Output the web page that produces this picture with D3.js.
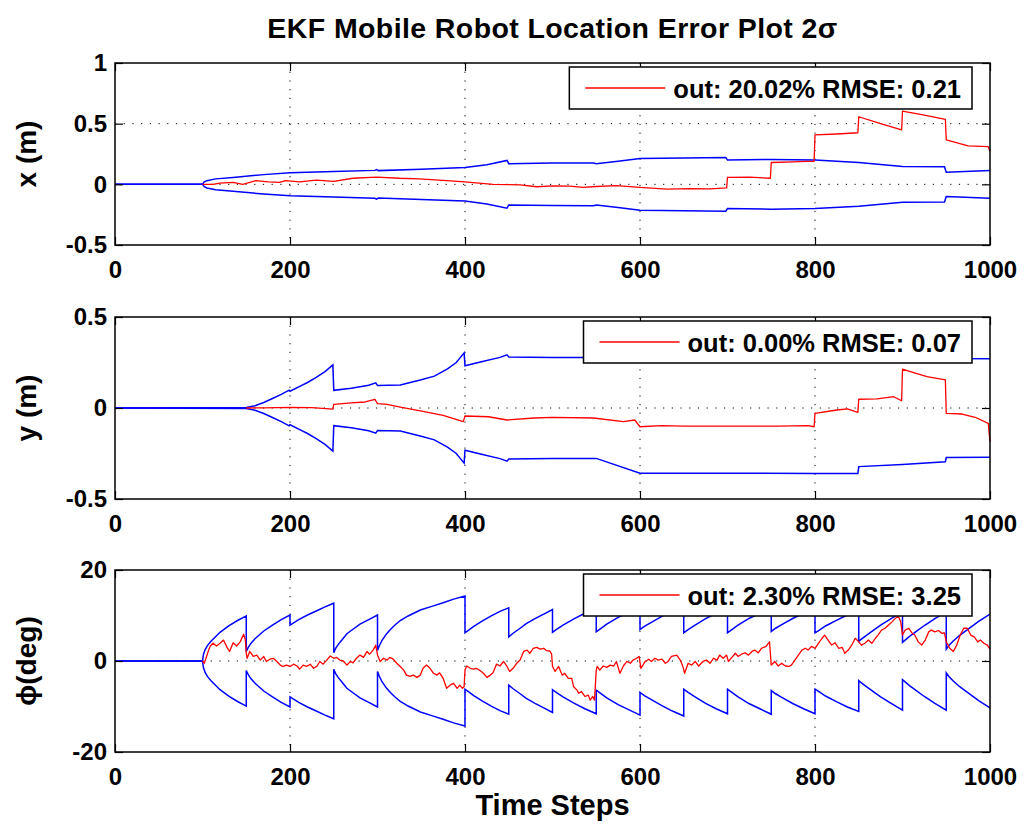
<!DOCTYPE html>
<html>
<head>
<meta charset="utf-8">
<script src="https://cdn.jsdelivr.net/npm/d3@7"></script>
<style>
  body { margin: 0; background: #fff; }
  svg text { font-family: "Liberation Sans", Arial, Helvetica, sans-serif; fill: #000; }
</style>
</head>
<body>
<div id="chart"></div>
<script>
// ---- data ----
const xTicks = [0, 200, 400, 600, 800, 1000];
const legendLabels = ["out: 20.02% RMSE: 0.21", "out: 0.00% RMSE: 0.07", "out: 2.30% RMSE: 3.25"];
const yLabels = ["x (m)", "y (m)", "\u03d5(deg)"];

const xTicksY = [-0.5, 0, 0.5, 1];
const yTicksY = [-0.5, 0, 0.5];
const phiTicksY = [-20, 0, 20];

// 2-sigma bounds [step, value], drawn as +value and -value
const xBound = [[0,0],[100,0],[102,0.02],[105,0.03],[115,0.045],[135,0.057],[170,0.08],[200,0.095],[250,0.105],
  [297,0.115],[299,0.122],[301,0.113],[350,0.125],[400,0.138],[425,0.162],[448,0.197],[450,0.17],[500,0.175],
  [547,0.176],[550,0.17],[575,0.19],[600,0.213],[650,0.217],[698,0.222],[700,0.2],[750,0.205],[800,0.2],
  [850,0.18],[900,0.148],[948,0.145],[950,0.1],[1000,0.115]];

const xError = [[100,0],[112,0],[120,0.01],[135,0.016],[146,0],[161,0.03],[175,0.02],[188,0.016],[195,0.03],
  [211,0.02],[230,0.035],[250,0.025],[272,0.05],[299,0.06],[325,0.05],[348,0.045],[379,0.03],[400,0.02],
  [432,0],[463,-0.005],[482,-0.02],[500,-0.012],[520,-0.015],[535,-0.025],[550,-0.018],[573,-0.01],[600,-0.025],
  [631,-0.04],[657,-0.035],[680,-0.038],[699,-0.03],[700,0.057],[725,0.06],[749,0.05],[750,0.18],[775,0.185],
  [790,0.19],[799,0.19],[800,0.407],[825,0.415],[849,0.425],[850,0.557],[875,0.5],[899,0.448],[900,0.604],
  [925,0.57],[949,0.536],[950,0.366],[975,0.317],[998,0.31],[1000,0.27]];

const yBound = [[0,0],[150,0.003],[160,0.012],[170,0.03],[180,0.052],[190,0.075],[199,0.098],[200,0.092],
  [210,0.116],[220,0.14],[230,0.168],[240,0.2],[249,0.237],[250,0.097],[270,0.108],[290,0.125],[298,0.138],
  [300,0.123],[326,0.126],[350,0.155],[365,0.175],[380,0.215],[390,0.25],[399,0.303],[400,0.232],[420,0.255],
  [440,0.278],[448,0.292],[450,0.28],[500,0.278],[550,0.277],[600,0.358],[700,0.358],[800,0.36],[849,0.36],
  [850,0.322],[900,0.31],[949,0.296],[950,0.272],[1000,0.27]];

const yError = [[150,0],[170,0.001],[200,0.003],[225,0.002],[249,-0.006],[250,0.02],[270,0.028],[286,0.033],
  [297,0.048],[300,0.024],[311,0.02],[326,0.005],[349,-0.016],[375,-0.04],[398,-0.075],[400,-0.044],[427,-0.048],
  [448,-0.066],[479,-0.055],[500,-0.052],[547,-0.055],[581,-0.075],[594,-0.066],[600,-0.103],[625,-0.097],
  [650,-0.1],[682,-0.1],[720,-0.1],[758,-0.1],[792,-0.097],[799,-0.103],[800,-0.029],[825,-0.011],[837,-0.005],
  [849,-0.024],[850,0.048],[871,0.05],[890,0.062],[899,0.04],[900,0.214],[909,0.2],[928,0.172],[949,0.154],
  [950,-0.029],[968,-0.033],[983,-0.051],[998,-0.084],[1000,-0.185]];

const phiBound = [[0,0],[100,0],[101,1.4],[103,2.5],[106,3.5],[110,4.4],[120,6.3],[130,7.7],[140,8.9],[150,9.9],
  [150,2.1],[152,2.9],[155,3.8],[160,4.9],[170,6.6],[180,7.9],[190,9.1],[200,10.1],
  [200,7.9],[210,9.1],[220,10.1],[230,11.0],[240,11.9],[250,12.7],
  [250,1.8],[252,2.7],[255,3.6],[260,4.8],[265,6.0],[270,6.7],[280,8.1],[290,9.1],[300,10.1],
  [300,2.3],[302,3.3],[305,4.5],[310,5.9],[315,7.0],[320,7.9],[326,8.9],[335,9.9],[349,11.2],[362,12.0],[375,12.8],[387,13.6],[400,14.3],
  [400,6.2],[405,6.9],[410,7.6],[420,8.8],[430,9.9],[440,10.9],[450,11.7],
  [450,5.3],[455,6.1],[463,7.2],[470,8.2],[480,9.3],[490,10.3],[500,11.3],
  [500,6.3],[505,7.0],[512,7.9],[525,9.3],[537,10.5],[550,11.6],
  [550,6.4],[555,7.1],[562,8.1],[575,9.6],[587,10.7],[600,11.9],
  [600,6.9],[605,7.6],[612,8.4],[625,9.8],[637,11.0],[650,12.1],
  [650,6.2],[655,6.9],[662,7.8],[675,9.3],[687,10.5],[700,11.6],
  [700,6.2],[705,6.9],[712,7.9],[725,9.4],[737,10.5],[750,11.7],
  [750,6.5],[755,7.2],[762,8.0],[775,9.4],[787,10.5],[800,11.6],
  [800,6.2],[805,6.8],[812,7.7],[825,9.0],[837,10.1],[850,11.1],
  [850,4.3],[853,4.8],[858,5.5],[865,6.5],[875,7.9],[887,9.3],[900,10.8],
  [900,4.1],[903,4.6],[908,5.4],[915,6.4],[925,7.8],[937,9.3],[950,10.8],
  [950,2.6],[953,3.4],[958,4.4],[965,5.6],[975,7.0],[987,8.7],[1000,10.3]];

const phiError = [[100,0],[102,-0.5],[104,0.6],[107,2.4],[109,3.3],[112,3.9],[116,3.3],[120,3.9],[124,4.6],[128,3.0],
  [131,2.1],[135,4.0],[139,3.3],[143,4.2],[147,5.9],[149,4.6],[150,1.7],[151,0.6],[154,2.1],[158,1.0],[162,1.3],
  [166,0.2],[170,1.0],[173,-0.1],[177,0.4],[181,0.6],[185,-0.1],[189,-0.9],[192,-1.2],[196,-0.9],[200,-1.2],
  [204,-0.7],[208,-1.1],[211,-1.8],[215,-0.9],[219,-1.2],[223,-0.7],[227,-1.6],[231,-1.1],[234,-0.1],[238,-0.7],
  [242,0.2],[246,1.1],[250,0.6],[253,0.8],[257,0.2],[261,0],[265,-0.9],[269,-0.1],[272,-0.4],[276,0.6],[280,1.3],
  [284,0.8],[288,2.1],[291,1.5],[295,2.4],[298,3.5],[300,1.3],[303,-0.1],[307,0.6],[311,0.2],[314,0.8],[318,0.4],
  [322,-0.5],[326,-1.2],[330,-2.0],[333,-3.1],[337,-3.4],[341,-3.1],[345,-3.6],[349,-3.1],[352,-1.6],[356,-0.9],
  [360,-1.6],[364,-2.7],[368,-3.1],[371,-2.6],[375,-3.8],[379,-6.0],[383,-5.3],[387,-4.9],[391,-6.0],[394,-5.3],
  [397,-6.0],[399,-5.6],[400,-2.0],[402,-1.1],[406,-1.6],[410,-1.8],[413,-1.6],[417,-2.1],[421,-2.7],[425,-3.6],
  [429,-3.1],[432,-2.6],[436,-0.7],[440,-1.1],[444,-0.1],[448,-1.2],[451,-2.3],[455,-1.6],[459,-0.5],[463,0.2],
  [467,2.1],[471,2.4],[474,1.7],[478,2.8],[482,3.0],[486,2.6],[490,2.8],[493,2.3],[497,2.2],[499,1.5],[500,-1.2],
  [503,-2.3],[507,-1.2],[511,-3.1],[514,-2.7],[518,-3.8],[522,-3.8],[524,-5.6],[528,-6.4],[530,-7.1],[533,-6.7],
  [537,-7.8],[541,-7.5],[543,-8.6],[546,-7.8],[548,-8.6],[550,-2.0],[551,-1.2],[554,-2.0],[558,-1.1],[562,-1.4],
  [566,-0.9],[570,-1.1],[573,-0.1],[577,-2.7],[581,-1.1],[585,-0.1],[589,-0.5],[592,0.2],[596,0.6],[599,1.0],
  [601,-1.6],[606,-0.1],[610,0.4],[613,-0.1],[617,0.6],[621,0.2],[625,0.4],[629,-0.5],[632,-0.1],[636,1.0],
  [642,1.3],[646,0.2],[649,-1.2],[651,-2.7],[655,-0.5],[659,-0.9],[663,-0.1],[667,-1.1],[672,-0.1],[676,0.2],
  [680,-0.5],[684,0.6],[688,0.2],[691,1.3],[695,0.6],[699,1.3],[701,-0.1],[705,0.8],[709,1.7],[712,1.0],[716,1.5],
  [720,1.8],[724,1.3],[728,2.1],[731,2.4],[735,1.8],[739,2.8],[744,3.2],[748,4.2],[750,-0.9],[754,-0.1],[758,-1.1],
  [762,-0.5],[766,-1.1],[770,-1.2],[773,-0.9],[777,0.2],[781,1.3],[785,2.4],[789,2.8],[792,2.4],[796,3.2],[800,2.8],
  [804,3.9],[808,5.0],[811,5.7],[815,4.6],[819,3.5],[823,4.0],[827,2.8],[831,3.0],[834,1.7],[838,2.4],[842,3.5],
  [846,5.0],[850,4.2],[853,3.5],[857,3.9],[861,4.6],[865,3.9],[869,5.0],[872,5.7],[876,6.8],[880,7.2],[884,7.9],
  [888,8.6],[891,9.2],[895,9.9],[898,8.6],[900,5.7],[903,6.8],[907,7.2],[911,6.1],[914,5.7],[918,4.2],[922,3.5],
  [926,4.6],[930,6.4],[933,6.8],[937,6.4],[941,6.7],[945,6.1],[948,6.2],[950,4.2],[954,2.8],[958,2.1],[962,3.5],
  [966,5.7],[970,7.2],[974,7.2],[978,5.7],[982,5.3],[986,4.2],[989,4.6],[993,3.9],[997,3.5],[1000,2.6]];

// ---- layout ----
const width = 1026, height = 826;
const left = 115, right = 990;

const panels = [
  {top: 63,  bottom: 245, domain: [-0.5, 1],  ticks: xTicksY,   label: yLabels[0], bound: xBound,   err: xError,   legend: legendLabels[0]},
  {top: 317, bottom: 499, domain: [-0.5, 0.5], ticks: yTicksY,  label: yLabels[1], bound: yBound,   err: yError,   legend: legendLabels[1]},
  {top: 570, bottom: 752, domain: [-20, 20],  ticks: phiTicksY, label: yLabels[2], bound: phiBound, err: phiError, legend: legendLabels[2]}
];

const svg = d3.select("#chart").append("svg")
  .attr("width", width)
  .attr("height", height);

const x = d3.scaleLinear().domain([0, 1000]).range([left, right]);

// title
svg.append("text")
  .attr("x", (left + right) / 2)
  .attr("y", 38)
  .attr("text-anchor", "middle")
  .style("font-size", "28.5px")
  .style("font-weight", "bold")
  .style("letter-spacing", "0.4px")
  .text("EKF Mobile Robot Location Error Plot 2\u03c3");

panels.forEach(p => {
  const y = d3.scaleLinear().domain(p.domain).range([p.bottom, p.top]);
  const g = svg.append("g");

  // dotted grid on inner ticks
  const innerX = xTicks.filter(t => t > 0 && t < 1000);
  const innerY = p.ticks.filter(t => t > p.domain[0] && t < p.domain[1]);
  g.selectAll(".gx").data(innerX).enter().append("line")
    .attr("x1", d => x(d)).attr("x2", d => x(d))
    .attr("y1", p.top).attr("y2", p.bottom)
    .attr("stroke", "#000").attr("stroke-width", 1)
    .attr("stroke-dasharray", "1.2,7.5");
  g.selectAll(".gy").data(innerY).enter().append("line")
    .attr("x1", left).attr("x2", right)
    .attr("y1", d => y(d)).attr("y2", d => y(d))
    .attr("stroke", "#000").attr("stroke-width", 1)
    .attr("stroke-dasharray", "1.2,7.5");

  // bounds and error
  const line = d3.line().x(d => x(d[0])).y(d => y(d[1]));
  const lineNeg = d3.line().x(d => x(d[0])).y(d => y(-d[1]));

  g.append("path").datum(p.bound).attr("d", line)
    .attr("fill", "none").attr("stroke", "#0000ff").attr("stroke-width", 1.5);
  g.append("path").datum(p.bound).attr("d", lineNeg)
    .attr("fill", "none").attr("stroke", "#0000ff").attr("stroke-width", 1.5);
  g.append("path").datum(p.err).attr("d", line)
    .attr("fill", "none").attr("stroke", "#ff0000").attr("stroke-width", 1.3)
    .attr("stroke-linejoin", "round");

  // axes: inside ticks on all four sides
  const fmt = d => String(d);
  g.append("g").attr("transform", `translate(0,${p.bottom})`)
    .call(d3.axisBottom(x).tickValues(xTicks).tickFormat(fmt).tickSize(-8).tickSizeOuter(0).tickPadding(16));
  g.append("g").attr("transform", `translate(0,${p.top})`)
    .call(d3.axisTop(x).tickValues(xTicks).tickFormat("").tickSize(-8).tickSizeOuter(0));
  g.append("g").attr("transform", `translate(${left},0)`)
    .call(d3.axisLeft(y).tickValues(p.ticks).tickFormat(fmt).tickSize(-8).tickSizeOuter(0).tickPadding(8));
  g.append("g").attr("transform", `translate(${right},0)`)
    .call(d3.axisRight(y).tickValues(p.ticks).tickFormat("").tickSize(-8).tickSizeOuter(0));

  g.selectAll(".domain").remove();
  g.selectAll(".tick line").attr("stroke", "#000").attr("stroke-width", 1.2);
  g.selectAll(".tick text")
    .style("font-family", "'Liberation Sans', Arial, sans-serif")
    .style("font-size", "24px")
    .style("font-weight", "bold")
    .attr("fill", "#000");

  // axes box
  g.append("rect")
    .attr("x", left).attr("y", p.top)
    .attr("width", right - left).attr("height", p.bottom - p.top)
    .attr("fill", "none").attr("stroke", "#000").attr("stroke-width", 1.5);

  // y label
  g.append("text")
    .attr("transform", `translate(36,${(p.top + p.bottom) / 2}) rotate(-90)`)
    .attr("text-anchor", "middle")
    .style("font-size", "28px")
    .style("font-weight", "bold")
    .text(p.label);

  // legend
  const lg = g.append("g");
  const box = lg.append("rect");
  const txt = lg.append("text")
    .attr("x", 961).attr("y", p.top + 35)
    .attr("text-anchor", "end")
    .style("font-size", "25.5px")
    .style("font-weight", "bold")
    .text(p.legend);
  const tw = txt.node().getComputedTextLength();
  const tStart = 961 - tw;
  box.attr("x", tStart - 104).attr("y", p.top + 4)
    .attr("width", 972 - (tStart - 104)).attr("height", 42)
    .attr("fill", "#fff").attr("stroke", "#000").attr("stroke-width", 1.5);
  lg.append("line")
    .attr("x1", tStart - 88).attr("x2", tStart - 8)
    .attr("y1", p.top + 25).attr("y2", p.top + 25)
    .attr("stroke", "#ff0000").attr("stroke-width", 1.3);
});

// x label
svg.append("text")
  .attr("x", (left + right) / 2)
  .attr("y", 815)
  .attr("text-anchor", "middle")
  .style("font-size", "29px")
  .style("font-weight", "bold")
  .text("Time Steps");
</script>
</body>
</html>
